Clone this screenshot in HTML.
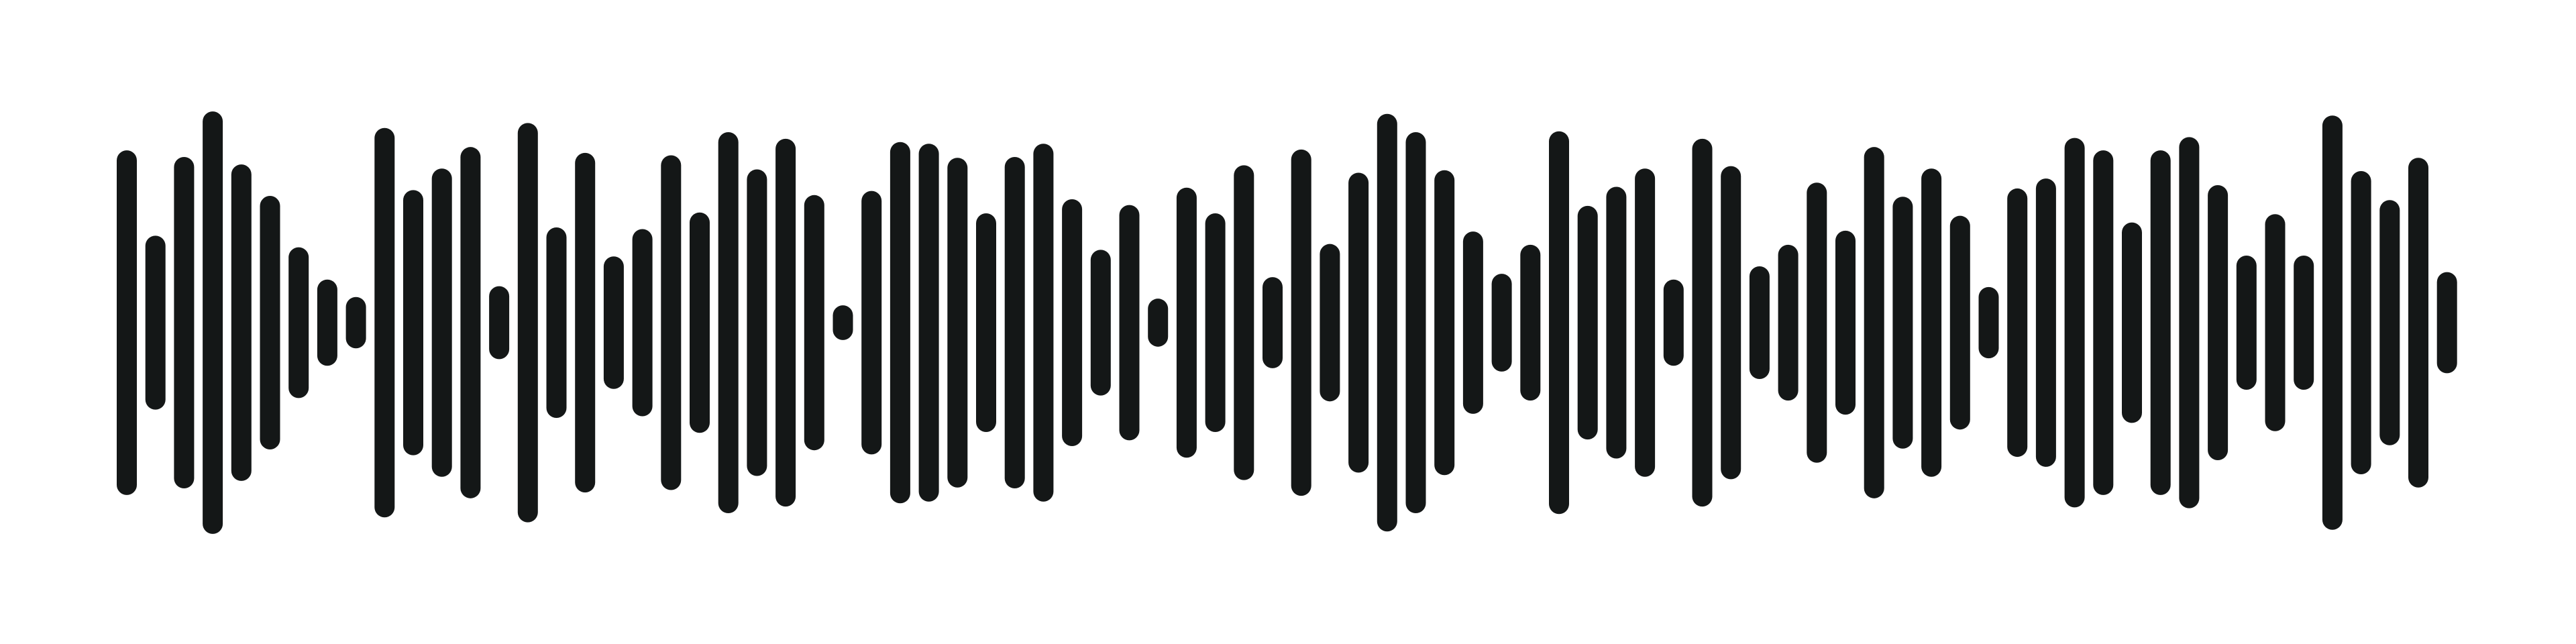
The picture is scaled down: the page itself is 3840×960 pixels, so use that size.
<!DOCTYPE html>
<html><head><meta charset="utf-8"><style>
html,body{margin:0;padding:0;background:#fff;}
svg{display:block;}
</style></head><body>
<svg id="chart" width="3840" height="960" viewBox="0 0 3840 960" xmlns="http://www.w3.org/2000/svg">
<rect width="3840" height="960" fill="#ffffff"/>
<g id="bars"></g>
</svg>
<script>
const barHeights = [208,105,200,255,191,153,91,52,31,235,160,186,212,44,241,115,205,80,113,202,133,230,185,222,154,21,159,218,216,199,132,200,216,149,88,142,29,163,132,190,55,209,95,181,252,230,184,110,59,94,231,141,164,186,52,222,189,68,94,169,111,212,152,186,129,43,162,174,223,208,121,208,224,166,81,131,81,250,183,148,199,61];
const scale = 2.47;
const x0 = 189, step = 42.7, cy = 481, bw = 30;
function xPos(i){ return x0 + i*step; }
function hPos(v){ return v*scale; }
const g = document.getElementById('bars');
barHeights.forEach((v,i)=>{
  const h = hPos(v);
  const r = document.createElementNS('http://www.w3.org/2000/svg','rect');
  r.setAttribute('x', xPos(i)-bw/2);
  r.setAttribute('y', cy-h/2);
  r.setAttribute('width', bw);
  r.setAttribute('height', h);
  r.setAttribute('rx', 15);
  r.setAttribute('ry', 15);
  r.setAttribute('fill', '#141717');
  
  
  g.appendChild(r);
});
</script>
</body></html>
